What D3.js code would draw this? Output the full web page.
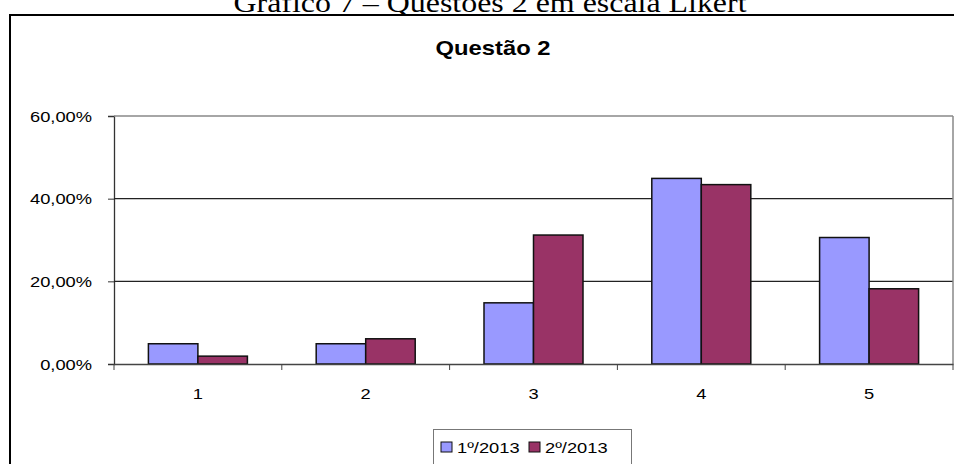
<!DOCTYPE html>
<html>
<head>
<meta charset="utf-8">
<script src="https://cdn.jsdelivr.net/npm/d3@7"></script>
<style>
  html, body { margin: 0; padding: 0; background: #fff; }
  svg { display: block; }
</style>
</head>
<body>
<svg id="chart" width="954" height="464"></svg>
<script>
// Likert answers for question 2, share of respondents per semester
const categories = ["1", "2", "3", "4", "5"];
const seriesNames = ["1º/2013", "2º/2013"];
const sem1 = [0.049, 0.049, 0.148, 0.449, 0.306];
const sem2 = [0.019, 0.061, 0.312, 0.434, 0.182];
const yTicks = [0, 0.2, 0.4, 0.6];
const colors = ["#9999FF", "#993366"];
const caption = "Gráfico 7 – Questões 2 em escala Likert";
const chartTitle = "Questão 2";

const values = [sem1, sem2];
const svg = d3.select("#chart");
const sx = 1.22; // horizontal stretch of the embedded chart's text

const plot = { left: 114, right: 953, top: 116, bottom: 364 };

const x0 = d3.scaleBand().domain(categories).range([plot.left, plot.right]).padding(0);
const gap = x0.bandwidth() * 0.205;
const x1 = d3.scaleBand().domain(seriesNames).range([gap, x0.bandwidth() - gap]).padding(0);
const y = d3.scaleLinear().domain([0, 0.6]).range([plot.bottom, plot.top]);

const fmt = v => d3.format(".2f")(v * 100).replace(".", ",") + "%";

function label(g, x, yy, txt, size, anchor, weight, family, stretch) {
  return g.append("text")
    .attr("transform", `translate(${x},${yy}) scale(${stretch},1)`)
    .attr("text-anchor", anchor)
    .attr("font-family", family)
    .attr("font-size", size)
    .attr("font-weight", weight)
    .attr("fill", "#000")
    .text(txt);
}

// document caption above the chart frame
label(svg, 490, 12, caption, 28, "middle", "normal", "'Liberation Serif', 'Times New Roman', serif", 1.14);

// chart frame
svg.append("rect")
  .attr("x", 10).attr("y", 15)
  .attr("width", 960).attr("height", 470)
  .attr("fill", "none").attr("stroke", "#000").attr("stroke-width", 2);

// chart title
label(svg, 493, 55, chartTitle, 19.5, "middle", "bold", "'Liberation Sans', Arial, sans-serif", sx);

// y axis with gridlines
const yAxis = d3.axisLeft(y).tickValues(yTicks).tickSize(6).tickFormat(() => "");
const gy = svg.append("g").attr("transform", `translate(${plot.left},0)`).call(yAxis);
gy.select(".domain").attr("stroke", "#333").attr("stroke-width", 1.3);
gy.selectAll(".tick line").attr("stroke", "#333").attr("stroke-width", 1);

svg.append("g").selectAll("line")
  .data(yTicks.filter(t => t > 0))
  .join("line")
  .attr("x1", plot.left).attr("x2", plot.right)
  .attr("y1", d => y(d)).attr("y2", d => y(d))
  .attr("stroke", d => d === 0.6 ? "#888" : "#222")
  .attr("stroke-width", d => d === 0.6 ? 1.5 : 1.2);

// right edge of the plot area
svg.append("line")
  .attr("x1", plot.right).attr("x2", plot.right)
  .attr("y1", plot.top).attr("y2", plot.bottom)
  .attr("stroke", "#888").attr("stroke-width", 1.5);

yTicks.forEach(t => {
  label(svg, 92, y(t) + 5.5, fmt(t), 15, "end", "normal", "'Liberation Sans', Arial, sans-serif", sx);
});

// bars
const groups = svg.append("g").selectAll("g")
  .data(categories)
  .join("g")
  .attr("transform", d => `translate(${x0(d)},0)`);

groups.selectAll("rect")
  .data((d, i) => seriesNames.map((s, j) => ({ s, j, v: values[j][i] })))
  .join("rect")
  .attr("x", d => x1(d.s))
  .attr("width", x1.bandwidth())
  .attr("y", d => y(d.v))
  .attr("height", d => y(0) - y(d.v))
  .attr("fill", d => colors[d.j])
  .attr("stroke", "#111")
  .attr("stroke-width", 1.5);

// x axis
const xAxis = d3.axisBottom(x0).tickSize(0).tickFormat(() => "");
const gx = svg.append("g").attr("transform", `translate(0,${plot.bottom})`).call(xAxis);
gx.select(".domain").attr("stroke", "#444").attr("stroke-width", 1.5);

const boundaries = categories.map(c => x0(c)).concat([plot.right]);
svg.append("g").selectAll("line")
  .data(boundaries)
  .join("line")
  .attr("x1", d => d).attr("x2", d => d)
  .attr("y1", plot.bottom).attr("y2", plot.bottom + 6)
  .attr("stroke", "#444").attr("stroke-width", 1);

categories.forEach(c => {
  label(svg, x0(c) + x0.bandwidth() / 2, 399, c, 15, "middle", "normal", "'Liberation Sans', Arial, sans-serif", sx);
});

// legend
const lg = svg.append("g");
lg.append("rect")
  .attr("x", 433.5).attr("y", 429.5)
  .attr("width", 198).attr("height", 40)
  .attr("fill", "#fff").attr("stroke", "#777").attr("stroke-width", 1);
const legendItems = [
  { name: seriesNames[0], color: colors[0], sx: 441, tx: 457 },
  { name: seriesNames[1], color: colors[1], sx: 529, tx: 545 }
];
legendItems.forEach(it => {
  lg.append("rect")
    .attr("x", it.sx).attr("y", 442)
    .attr("width", 11).attr("height", 10)
    .attr("fill", it.color).attr("stroke", "#111").attr("stroke-width", 1);
  label(lg, it.tx, 453, it.name, 15, "start", "normal", "'Liberation Sans', Arial, sans-serif", sx);
});
</script>
</body>
</html>
